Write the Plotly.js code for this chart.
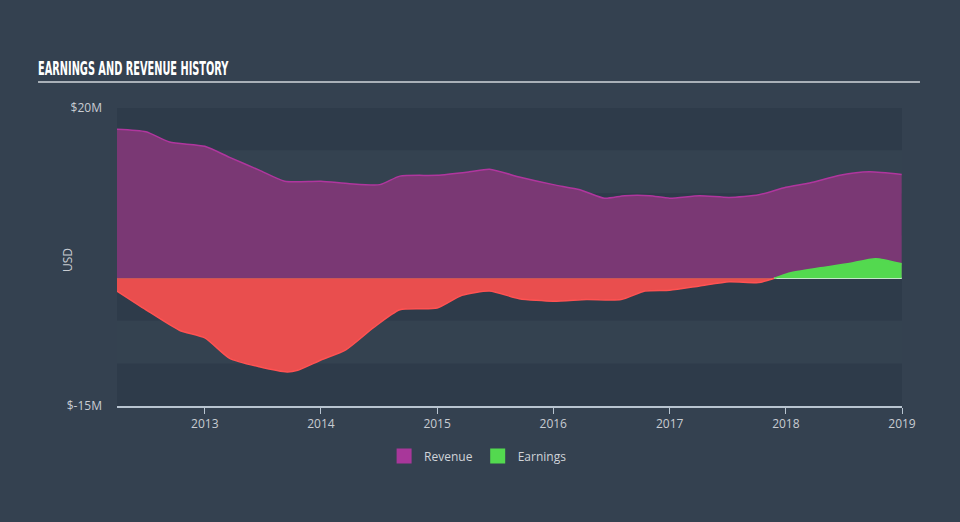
<!DOCTYPE html>
<html>
<head>
<meta charset="utf-8">
<script src="https://cdn.plot.ly/plotly-3.0.1.min.js"></script>
<style>
html,body{margin:0;padding:0;background:#344150;}
#chart{width:960px;height:522px;}
.gtitle{font-family:'Liberation Sans Narrow','DejaVu Sans Condensed',sans-serif !important;font-stretch:condensed !important;}
</style>
</head>
<body>
<div id="chart"></div>
<script>
// Revenue (USD millions)
const revenueDates = ['2012-03-31','2012-06-30','2012-09-12','2013-01-01','2013-03-20','2013-06-21','2013-09-09','2014-01-01','2014-04-01','2014-07-05','2014-09-06','2015-01-01','2015-04-12','2015-06-15','2015-09-16','2016-01-01','2016-03-25','2016-06-10','2016-08-12','2016-10-30','2017-01-01','2017-04-05','2017-07-07','2017-10-08','2018-01-01','2018-03-17','2018-06-20','2018-09-20','2018-12-31'];
const revenueValues = [17.5,17.2,16.0,15.5,14.2,12.7,11.4,11.4,11.1,11.0,12.0,12.1,12.5,12.8,11.9,11.0,10.4,9.4,9.7,9.7,9.4,9.7,9.5,9.8,10.7,11.2,12.1,12.5,12.2];

// Earnings (USD millions)
const earningsDates = ['2012-03-31','2012-06-30','2012-10-13','2013-01-01','2013-03-20','2013-06-21','2013-09-17','2013-10-20','2014-01-01','2014-03-20','2014-06-15','2014-09-06','2015-01-01','2015-03-20','2015-06-15','2015-09-16','2016-01-01','2016-04-15','2016-08-01','2016-10-15','2017-01-01','2017-04-05','2017-07-07','2017-10-08','2017-11-26','2018-01-10','2018-04-15','2018-07-15','2018-10-10','2018-12-31'];
const earningsValues = [-1.5,-3.7,-6.1,-7.0,-9.4,-10.4,-11.0,-10.8,-9.6,-8.4,-5.8,-3.7,-3.5,-2.0,-1.5,-2.4,-2.7,-2.5,-2.5,-1.5,-1.4,-0.9,-0.4,-0.5,0,0.6,1.2,1.7,2.3,1.7];

const yTickVals = [20,-15];
const yTickText = ['$20M','$-15M'];
const xTickVals = ['2013-01-01','2014-01-01','2015-01-01','2016-01-01','2017-01-01','2018-01-01','2019-01-01'];
const xTickText = ['2013','2014','2015','2016','2017','2018','2019'];
const bandEdges = [20,15,10,5,0,-5,-10,-15];
const legendNames = ['Revenue','Earnings'];
const legendColors = ['#a8379a','#53d94f'];

const lossIdx = earningsValues.map((v,i)=>i).filter(i=>earningsValues[i]<=0);
const profitIdx = earningsValues.map((v,i)=>i).filter(i=>earningsValues[i]>=0);

const traces = [
  {
    x: revenueDates, y: revenueValues, type:'scatter', mode:'lines', name:'Revenue',
    line:{color:'#b0369e', width:1.5, shape:'spline', smoothing:0.6},
    fill:'tozeroy', fillcolor:'#7a3874', showlegend:false, hoverinfo:'skip'
  },
  {
    x: lossIdx.map(i=>earningsDates[i]), y: lossIdx.map(i=>earningsValues[i]), type:'scatter', mode:'lines', name:'Loss',
    line:{color:'#ff5252', width:1.5, shape:'spline', smoothing:0.6},
    fill:'tozeroy', fillcolor:'#e94e4e', showlegend:false, hoverinfo:'skip'
  },
  {
    x: profitIdx.map(i=>earningsDates[i]), y: profitIdx.map(()=>0), type:'scatter', mode:'lines',
    line:{color:'#e8ecef', width:1.5}, showlegend:false, hoverinfo:'skip'
  },
  {
    x: profitIdx.map(i=>earningsDates[i]), y: profitIdx.map(i=>earningsValues[i]), type:'scatter', mode:'lines', name:'Earnings',
    line:{color:'#53d94f', width:1.5, shape:'spline', smoothing:0.6},
    fill:'tozeroy', fillcolor:'#53d94f', showlegend:false, hoverinfo:'skip'
  }
];
legendNames.forEach((n,i)=>{
  traces.push({x:[null], y:[null], type:'scatter', mode:'markers', name:n,
    marker:{symbol:'square', size:15, color:legendColors[i]}, hoverinfo:'skip'});
});

const shapes = [];
for (let i=0;i<bandEdges.length-1;i++){
  shapes.push({type:'rect', xref:'paper', yref:'y', x0:0, x1:1, y0:bandEdges[i+1], y1:bandEdges[i],
    fillcolor: i%2===0 ? '#2e3b4a' : '#344250', line:{width:0}, layer:'below'});
}
shapes.push({type:'line', xref:'paper', yref:'paper', x0:-0.1006, x1:1.0229, y0:1.087, y1:1.087,
  line:{color:'#a9b0b8', width:2}});

const layout = {
  width:960, height:522,
  margin:{l:117, r:58, t:108, b:116},
  paper_bgcolor:'#344150', plot_bgcolor:'#344250',
  showlegend:true,
  legend:{orientation:'h', x:0.46, xanchor:'center', y:-0.168, yanchor:'middle',
    font:{family:'Open Sans, sans-serif', size:12, color:'#d0d4d9'}, bgcolor:'rgba(0,0,0,0)', itemwidth:30},
  title:{text:'EARNINGS AND REVENUE HISTORY', x:38/960, xanchor:'left', xref:'container', y:1-68/522, yanchor:'middle', yref:'container',
    font:{family:'Liberation Sans Narrow, DejaVu Sans Condensed, sans-serif', size:19, color:'#ffffff', weight:700}},
  xaxis:{type:'date', range:['2012-03-31','2019-01-01'], tickvals:xTickVals, ticktext:xTickText,
    showgrid:false, zeroline:false, showline:true, linecolor:'#b8c4d0', linewidth:1.5,
    ticks:'outside', ticklen:6, tickcolor:'#b8c4d0', tickwidth:1,
    tickfont:{family:'Open Sans, sans-serif', size:12, color:'#c8ccd2'}, fixedrange:true},
  yaxis:{range:[-15,20], tickvals:yTickVals, ticktext:yTickText, showgrid:false,
    zeroline:true, zerolinecolor:'#6f8a70', zerolinewidth:1,
    showline:false, ticks:'', ticklabelstandoff:14,
    tickfont:{family:'Open Sans, sans-serif', size:12, color:'#c8ccd2'}, fixedrange:true},
  annotations:[{text:'USD', xref:'paper', yref:'paper', x:-0.0624, y:0.49, textangle:-90,
    showarrow:false, xanchor:'center', yanchor:'middle',
    font:{family:'Open Sans, sans-serif', size:12, color:'#c8ccd2'}}],
  shapes: shapes
};

Plotly.newPlot('chart', traces, layout, {displayModeBar:false, staticPlot:true}).then(()=>{
  const t = document.querySelector('.gtitle');
  if (t) {
    const bb = t.getBBox();
    const s = 191 / bb.width;
    t.setAttribute('transform', 'translate(' + bb.x + ',0) scale(' + s + ',1) translate(' + (-bb.x) + ',0)');
  }
});
</script>
</body>
</html>
